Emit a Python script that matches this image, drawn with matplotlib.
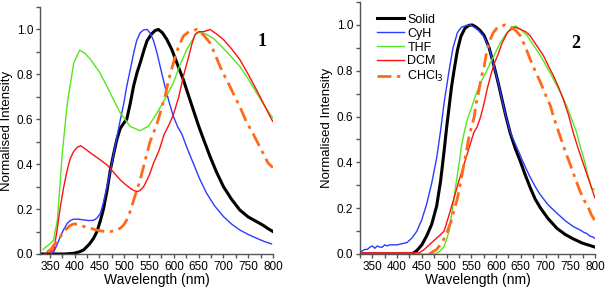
import matplotlib
matplotlib.use("Agg")
import matplotlib.pyplot as plt
from matplotlib.ticker import MultipleLocator, FormatStrFormatter

plt.rcParams['font.family'] = ['Liberation Sans', 'DejaVu Sans']

# ---------------- Panel 1 data (wavelength nm, normalised intensity) ----------------
p1_solid_x = [330, 380, 398, 410, 418, 430, 438, 445, 452, 458, 465, 472, 478, 485, 492, 499, 505, 512, 519, 526, 532, 540, 546, 555, 562, 569, 577, 586, 596, 608, 619, 629, 639, 650, 660, 673, 686, 700, 716, 733, 750, 767, 780, 790, 800]
p1_solid_y = [0.0, 0.0, 0.003, 0.01, 0.018, 0.045, 0.07, 0.10, 0.15, 0.20, 0.28, 0.375, 0.44, 0.51, 0.56, 0.583, 0.60, 0.67, 0.75, 0.81, 0.85, 0.91, 0.95, 0.98, 0.995, 1.0, 0.985, 0.955, 0.91, 0.84, 0.777, 0.71, 0.643, 0.57, 0.51, 0.434, 0.365, 0.30, 0.245, 0.196, 0.165, 0.144, 0.128, 0.113, 0.10]

p1_cyh_x = [352, 358, 365, 371, 378, 385, 392, 398, 408, 418, 428, 438, 445, 452, 458, 465, 472, 479, 485, 492, 499, 505, 512, 519, 525, 532, 539, 546, 552, 559, 566, 574, 582, 590, 599, 608, 616, 627, 639, 652, 666, 682, 700, 716, 733, 750, 767, 782, 797]
p1_cyh_y = [0.0, 0.01, 0.045, 0.077, 0.11, 0.137, 0.15, 0.155, 0.155, 0.152, 0.149, 0.15, 0.16, 0.182, 0.23, 0.30, 0.37, 0.45, 0.52, 0.598, 0.67, 0.747, 0.82, 0.896, 0.95, 0.985, 0.998, 1.0, 0.985, 0.95, 0.896, 0.82, 0.747, 0.68, 0.613, 0.565, 0.535, 0.47, 0.405, 0.335, 0.271, 0.215, 0.167, 0.134, 0.107, 0.087, 0.07, 0.056, 0.045]

p1_thf_x = [336, 341, 350, 357, 365, 375, 385, 398, 410, 420, 432, 450, 465, 480, 492, 512, 532, 549, 566, 582, 599, 612, 626, 646, 656, 666, 680, 699, 715, 733, 750, 767, 780, 797, 800]
p1_thf_y = [0.02, 0.03, 0.045, 0.06, 0.15, 0.45, 0.67, 0.85, 0.908, 0.895, 0.866, 0.81, 0.747, 0.68, 0.628, 0.568, 0.549, 0.57, 0.628, 0.69, 0.762, 0.84, 0.91, 0.985, 0.985, 0.978, 0.96, 0.918, 0.88, 0.836, 0.78, 0.717, 0.67, 0.613, 0.605]

p1_dcm_x = [340, 345, 352, 358, 364, 371, 378, 385, 391, 398, 405, 412, 420, 432, 448, 465, 478, 492, 502, 512, 520, 526, 532, 539, 546, 552, 559, 570, 580, 590, 599, 610, 619, 630, 637, 643, 650, 660, 673, 686, 700, 716, 733, 750, 767, 782, 797, 800]
p1_dcm_y = [0.0, 0.01, 0.01, 0.018, 0.10, 0.21, 0.30, 0.375, 0.425, 0.457, 0.475, 0.482, 0.47, 0.45, 0.425, 0.397, 0.365, 0.33, 0.31, 0.293, 0.282, 0.278, 0.283, 0.30, 0.33, 0.36, 0.405, 0.46, 0.53, 0.575, 0.62, 0.70, 0.79, 0.88, 0.94, 0.978, 0.99, 0.99, 1.0, 0.98, 0.955, 0.915, 0.866, 0.80, 0.73, 0.665, 0.60, 0.59]

p1_chcl_x = [345, 352, 358, 365, 371, 378, 385, 391, 398, 405, 412, 422, 432, 442, 452, 462, 472, 482, 492, 499, 505, 512, 519, 526, 532, 539, 546, 552, 559, 566, 574, 582, 590, 599, 609, 619, 630, 646, 660, 673, 683, 693, 703, 713, 723, 733, 746, 760, 775, 790, 800]
p1_chcl_y = [0.01, 0.02, 0.04, 0.06, 0.077, 0.10, 0.115, 0.127, 0.134, 0.133, 0.128, 0.12, 0.115, 0.108, 0.103, 0.10, 0.10, 0.105, 0.115, 0.13, 0.152, 0.19, 0.24, 0.29, 0.33, 0.39, 0.45, 0.50, 0.54, 0.58, 0.64, 0.70, 0.78, 0.85, 0.92, 0.97, 0.99, 1.0, 0.975, 0.94, 0.89, 0.836, 0.79, 0.747, 0.70, 0.657, 0.59, 0.535, 0.47, 0.405, 0.385]

# ---------------- Panel 2 data ----------------
p2_solid_x = [320, 430, 440, 450, 460, 470, 480, 488, 495, 500, 505, 510, 515, 522, 529, 537, 545, 552, 560, 568, 576, 586, 596, 604, 612, 620, 629, 639, 649, 659, 669, 679, 690, 705, 723, 740, 756, 775, 790, 800]
p2_solid_y = [0.0, 0.0, 0.015, 0.04, 0.08, 0.13, 0.21, 0.32, 0.45, 0.55, 0.64, 0.73, 0.80, 0.89, 0.95, 0.985, 0.998, 1.0, 0.99, 0.975, 0.953, 0.90, 0.82, 0.75, 0.675, 0.60, 0.525, 0.46, 0.405, 0.345, 0.29, 0.24, 0.20, 0.155, 0.112, 0.085, 0.066, 0.047, 0.037, 0.03]

p2_cyh_x = [320, 325, 330, 335, 340, 345, 350, 355, 360, 365, 370, 375, 380, 385, 390, 400, 410, 420, 430, 440, 450, 460, 470, 480, 488, 495, 505, 513, 522, 530, 540, 548, 556, 565, 575, 586, 596, 604, 612, 620, 629, 639, 649, 659, 669, 679, 689, 705, 723, 740, 756, 765, 770, 777, 783, 790, 795, 800]
p2_cyh_y = [0.0, 0.005, 0.015, 0.02, 0.02, 0.03, 0.035, 0.025, 0.035, 0.03, 0.03, 0.04, 0.035, 0.04, 0.04, 0.04, 0.045, 0.05, 0.07, 0.10, 0.15, 0.22, 0.31, 0.42, 0.54, 0.66, 0.80, 0.90, 0.967, 0.99, 0.998, 1.0, 0.99, 0.975, 0.95, 0.90, 0.82, 0.75, 0.675, 0.60, 0.53, 0.48, 0.43, 0.38, 0.335, 0.295, 0.26, 0.215, 0.178, 0.145, 0.12, 0.11, 0.105, 0.095, 0.09, 0.078, 0.075, 0.068]

p2_thf_x = [320, 478, 485, 495, 505, 510, 515, 520, 525, 530, 535, 542, 549, 556, 562, 569, 579, 589, 599, 609, 620, 632, 640, 650, 663, 676, 690, 703, 716, 730, 743, 756, 763, 770, 777, 785, 793, 800]
p2_thf_y = [0.0, 0.0, 0.01, 0.032, 0.098, 0.17, 0.244, 0.32, 0.39, 0.47, 0.525, 0.588, 0.63, 0.675, 0.71, 0.748, 0.79, 0.836, 0.88, 0.924, 0.96, 0.99, 0.995, 0.98, 0.953, 0.91, 0.865, 0.815, 0.763, 0.705, 0.646, 0.57, 0.529, 0.47, 0.42, 0.35, 0.288, 0.28]

p2_dcm_x = [320, 445, 455, 465, 475, 488, 495, 505, 515, 525, 535, 545, 555, 562, 569, 576, 582, 589, 596, 603, 612, 623, 630, 639, 650, 660, 669, 682, 696, 706, 716, 726, 736, 746, 756, 766, 777, 788, 800]
p2_dcm_y = [0.005, 0.005, 0.02, 0.04, 0.06, 0.085, 0.10, 0.17, 0.244, 0.32, 0.39, 0.46, 0.53, 0.556, 0.60, 0.66, 0.72, 0.778, 0.83, 0.865, 0.92, 0.967, 0.98, 0.99, 0.98, 0.97, 0.953, 0.91, 0.865, 0.82, 0.778, 0.73, 0.675, 0.61, 0.53, 0.46, 0.39, 0.32, 0.244]

p2_chcl_x = [465, 480, 492, 500, 509, 515, 522, 528, 535, 541, 546, 551, 556, 560, 566, 570, 576, 580, 586, 594, 603, 619, 630, 640, 649, 659, 669, 679, 690, 700, 710, 716, 726, 738, 750, 760, 770, 778, 787, 793, 800]
p2_chcl_y = [0.0, 0.02, 0.054, 0.09, 0.142, 0.19, 0.244, 0.31, 0.39, 0.46, 0.52, 0.56, 0.60, 0.66, 0.72, 0.77, 0.82, 0.87, 0.924, 0.965, 0.99, 1.0, 0.99, 0.975, 0.953, 0.905, 0.85, 0.80, 0.748, 0.695, 0.646, 0.60, 0.536, 0.46, 0.39, 0.33, 0.273, 0.235, 0.20, 0.17, 0.145]

labels = ['Solid', 'CyH', 'THF', 'DCM', 'CHCl$_3$']
colors = ['#000000', '#2a3cff', '#55e620', '#ff1010', '#ff6a1a']
panel_labels = ['1', '2']

fig = plt.figure(figsize=(6.05, 2.87), dpi=100)
ax1 = fig.add_axes([40/605, 33/287, 233/605, 247/287])
ax2 = fig.add_axes([360/605, 33/287, 235/605, 252/287])

def style(ax, xlim, ylabel_x):
    ax.set_xlim(*xlim)
    ax.set_ylim(0, 1.1)
    for s in ['top', 'right']:
        ax.spines[s].set_visible(False)
    for s in ['left', 'bottom']:
        ax.spines[s].set_color('#555555')
        ax.spines[s].set_linewidth(1.0)
    ax.xaxis.set_major_locator(MultipleLocator(50))
    ax.xaxis.set_minor_locator(MultipleLocator(25))
    ax.yaxis.set_major_locator(MultipleLocator(0.2))
    ax.yaxis.set_minor_locator(MultipleLocator(0.1))
    ax.set_xticks(list(range(350, 801, 50)))
    ax.tick_params(which='both', direction='out', length=3, width=1, color='#555555', labelsize=8.5, pad=2)
    ax.set_xlabel('Wavelength (nm)', fontsize=10, labelpad=0)
    ax.set_ylabel('Normalised Intensity', fontsize=9.5)
    ax.yaxis.set_label_coords(ylabel_x, 0.5)
    ax.yaxis.set_major_formatter(FormatStrFormatter('%.1f'))

data1 = [(p1_solid_x, p1_solid_y), (p1_cyh_x, p1_cyh_y), (p1_thf_x, p1_thf_y), (p1_dcm_x, p1_dcm_y), (p1_chcl_x, p1_chcl_y)]
data2 = [(p2_solid_x, p2_solid_y), (p2_cyh_x, p2_cyh_y), (p2_thf_x, p2_thf_y), (p2_dcm_x, p2_dcm_y), (p2_chcl_x, p2_chcl_y)]

def draw(ax, data):
    for i, ((x, y), lab, c) in enumerate(zip(data, labels, colors)):
        if i == 0:
            ax.plot(x, y, color=c, lw=2.2, label=lab, solid_joinstyle='round')
        elif i == 4:
            ax.plot(x, y, color=c, lw=2.0, ls=(0, (5, 2, 1.2, 2)), label=lab)
        else:
            ax.plot(x, y, color=c, lw=1.0, label=lab)

draw(ax1, data1)
draw(ax2, data2)
style(ax1, (330, 800), -0.115)
style(ax2, (325, 800), -0.115)

ax1.text(0.955, 0.86, panel_labels[0], transform=ax1.transAxes, fontsize=13, fontweight='bold',
         family='Liberation Serif', ha='center', va='center')
ax2.text(0.92, 0.835, panel_labels[1], transform=ax2.transAxes, fontsize=13, fontweight='bold',
         family='Liberation Serif', ha='center', va='center')

ax2.legend(loc='upper left', bbox_to_anchor=(0.05, 0.973), frameon=False, fontsize=9,
           handlelength=2.2, handletextpad=0.25, labelspacing=0.15, borderaxespad=0)

fig.savefig('out.png', dpi=100)
